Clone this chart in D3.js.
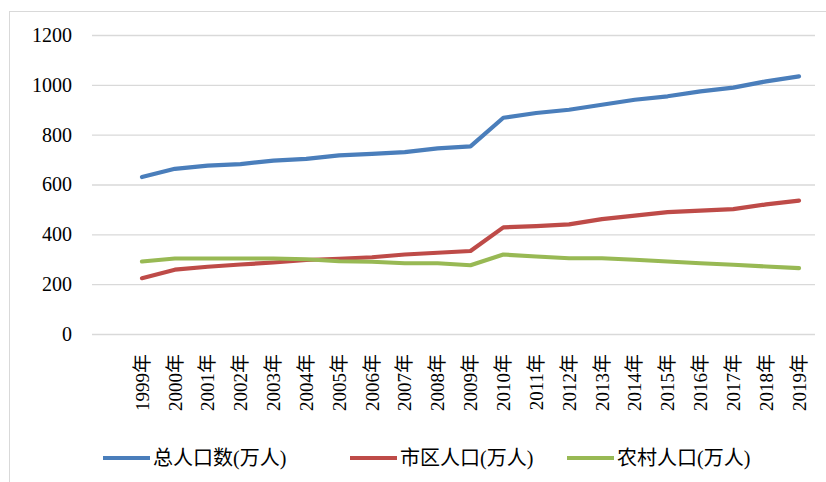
<!DOCTYPE html>
<html>
<head>
<meta charset="utf-8">
<script src="https://cdn.jsdelivr.net/npm/d3@7"></script>
<style>
    body { margin: 0; background: #fff; }
    svg text { font-family: "Liberation Serif", "Times New Roman", "Noto Sans CJK SC", serif !important; fill: #000; }
</style>
</head>
<body>
<div id="chart"></div>
<script>
// data
const years = ["1999", "2000", "2001", "2002", "2003", "2004", "2005", "2006", "2007", "2008", "2009",
    "2010", "2011", "2012", "2013", "2014", "2015", "2016", "2017", "2018", "2019"];
const totalPop = [630, 663, 676, 682, 696, 703, 717, 723, 730, 745, 753,
    868, 887, 900, 920, 940, 954, 974, 989, 1014, 1034];
const cityPop = [224, 258, 270, 279, 287, 297, 302, 308, 319, 326, 333,
    428, 433, 440, 461, 475, 489, 495, 501, 520, 535];
const ruralPop = [291, 303, 303, 303, 303, 300, 292, 290, 284, 284, 276,
    319, 311, 304, 304, 298, 291, 284, 278, 271, 264];
const yTicks = [0, 200, 400, 600, 800, 1000, 1200];
const seriesNames = ["总人口数(万人)", "市区人口(万人)", "农村人口(万人)"];
const seriesColors = ["#4a7ebb", "#be4b48", "#98b954"];

const svgWidth = 826,
    svgHeight = 482;

let svg = d3.select("#chart").append("svg")
    .attr("width", svgWidth)
    .attr("height", svgHeight);

// chart frame
svg.append("rect")
    .attr("x", 9.5)
    .attr("y", 11.5)
    .attr("width", 900)
    .attr("height", 600)
    .attr("fill", "none")
    .attr("stroke", "#d9d9d9");

const gridLeft = 92, gridRight = 815;

let xScale = d3.scalePoint()
    .domain(years)
    .range([142, 799]);
let yScale = d3.scaleLinear()
    .domain([0, 1200])
    .range([334, 35]);

// y axis with gridlines
let yAxis = svg.append("g")
    .attr("transform", `translate(${gridLeft},0)`)
    .call(d3.axisLeft(yScale)
        .tickValues(yTicks)
        .tickFormat(d3.format("d"))
        .tickSize(-(gridRight - gridLeft))
        .tickPadding(20))
    .attr("font-family", null)
    .attr("font-size", null);
yAxis.select(".domain").remove();
yAxis.selectAll(".tick line")
    .attr("stroke", "#d9d9d9")
    .attr("stroke-width", 1.3);
yAxis.selectAll(".tick text")
    .style("font-size", "20px")
    .attr("fill", "#000");

// x labels, rotated
svg.append("g")
    .selectAll("text")
    .data(years)
    .join("text")
    .attr("transform", (d) => `translate(${xScale(d)}, 354) rotate(-90)`)
    .attr("text-anchor", "end")
    .attr("dy", "0.35em")
    .style("font-size", "19px")
    .text((d) => d + "年");

// lines
let allSeries = [totalPop, cityPop, ruralPop];
let line = d3.line()
    .x((d, i) => xScale(years[i]))
    .y((d) => yScale(d));

svg.append("g")
    .selectAll("path")
    .data(allSeries)
    .join("path")
    .attr("d", (d) => line(d))
    .attr("fill", "none")
    .attr("stroke", (d, i) => seriesColors[i])
    .attr("stroke-width", 4.2)
    .attr("stroke-linejoin", "round")
    .attr("stroke-linecap", "round");

// legend
const legendX = [103, 350, 567];
let legend = svg.append("g")
    .selectAll("g")
    .data(seriesNames)
    .join("g")
    .attr("transform", (d, i) => `translate(${legendX[i]}, 458)`);
legend.append("line")
    .attr("x1", 0)
    .attr("x2", 47)
    .attr("stroke", (d, i) => seriesColors[i])
    .attr("stroke-width", 4.2);
legend.append("text")
    .attr("x", 50)
    .attr("dy", "0.35em")
    .style("font-size", "20px")
    .text((d) => d);
</script>
</body>
</html>
